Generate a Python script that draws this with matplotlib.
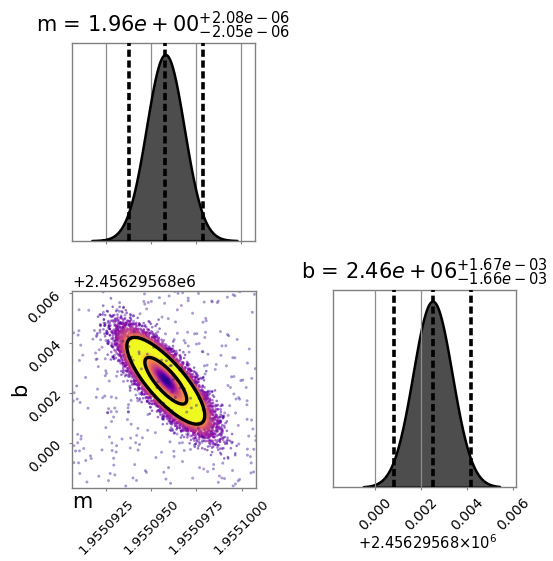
import numpy as np
import matplotlib
matplotlib.use("Agg")
import matplotlib.pyplot as plt
from matplotlib.ticker import FixedLocator, FormatStrFormatter, ScalarFormatter, NullFormatter, NullLocator

# posterior summary (median and 95% interval half-widths)
m_med = 1.9550958
m_err = [2.05e-06, 2.08e-06]          # minus, plus
b_off = 2456295.68
b_med = b_off + 0.0025
b_err = [1.66e-03, 1.67e-03]          # minus, plus
rho_mb = -0.80

m_title = r"m = $1.96e+00_{-2.05e-06}^{+2.08e-06}$"
b_title = r"b = $2.46e+06_{-1.66e-03}^{+1.67e-03}$"

m_ticks = [1.9550925, 1.9550950, 1.9550975, 1.9551000]
b_ticks = [0.000, 0.002, 0.004, 0.006]     # relative to b_off
b_guides = [0.000, 0.002]
m_lim = [1.9550906, 1.9551008]
b_lim = [-0.0018, 0.0061]                  # relative to b_off
m_span = [1.9550917, 1.9550998]           # extent of the samples
b_span = [-0.0005, 0.0054]

n_samples = 25000
n_background = 340

# colour along the Mahalanobis radius
r_knots = [0.0, 0.25, 0.45, 0.65, 0.85, 1.0, 1.25, 1.4, 1.95, 2.1, 2.3, 2.6, 3.0, 3.5, 4.5]
f_knots = [0.0, 0.08, 0.30, 0.50, 0.65, 0.75, 0.95, 1.0, 1.0, 0.72, 0.5, 0.3, 0.18, 0.1, 0.05]

sig_m = np.mean(m_err) / 1.96
sig_b = np.mean(b_err) / 1.96
cmap = plt.get_cmap("plasma")

plt.rcParams["font.family"] = "DejaVu Sans"
fig = plt.figure(figsize=(5.53, 5.61), dpi=100)
ax_m = fig.add_axes([0.1302, 0.5710, 0.3309, 0.3519])
ax_mb = fig.add_axes([0.1302, 0.1301, 0.3327, 0.3512])
ax_b = fig.add_axes([0.6027, 0.1319, 0.3298, 0.3512])

blim = [b_off + v for v in b_lim]
bticks = [b_off + v for v in b_ticks]


def marginal(ax, med, sig, span, err):
    x = np.linspace(span[0], span[1], 400)
    y = np.exp(-0.5 * ((x - med) / sig) ** 2)
    ax.fill_between(x, 0, y, facecolor="#4d4d4d", edgecolor="k", lw=1.8, zorder=2)
    for v in (med - err[0], med, med + err[1]):
        ax.axvline(v, color="k", ls=(0, (2.0, 1.0)), lw=2.6, zorder=3)
    ax.set_ylim(0, 1.06)
    ax.yaxis.set_major_locator(NullLocator())


# m marginal
marginal(ax_m, m_med, sig_m, m_span, m_err)
ax_m.set_xlim(m_lim)
ax_m.xaxis.set_major_locator(FixedLocator(m_ticks))
ax_m.xaxis.set_major_formatter(NullFormatter())
ax_m.tick_params(axis="x", length=0)
ax_m.grid(axis="x", color="0.55", lw=0.9, zorder=4)
ax_m.set_title(m_title, fontsize=15, pad=8)

# b marginal
marginal(ax_b, b_med, sig_b, [b_off + v for v in b_span], b_err)
for g in b_guides:
    ax_b.axvline(b_off + g, color="0.55", lw=0.9, zorder=4)
ax_b.set_xlim(blim)
ax_b.xaxis.set_major_locator(FixedLocator(bticks))
ax_b.xaxis.set_major_formatter(ScalarFormatter(useOffset=b_off))
ax_b.xaxis.get_offset_text().set_visible(False)
ax_b.text(0.52, -0.28, f"+{b_off / 1e6:.8f}\u00d710$^{{6}}$", transform=ax_b.transAxes,
          ha="center", va="center", fontsize=10.5)
ax_b.set_title(b_title, fontsize=15, pad=8)

# joint m-b panel
gx = np.linspace(m_lim[0], m_lim[1], 400)
gy = np.linspace(b_lim[0], b_lim[1], 400)
X, Y = np.meshgrid(gx, gy)
u = (X - m_med) / sig_m
v = (Y - (b_med - b_off)) / sig_b
r = np.sqrt((u ** 2 - 2 * rho_mb * u * v + v ** 2) / (1 - rho_mb ** 2))
rgba = cmap(np.interp(r, r_knots, f_knots))
rgba[..., 3] = np.interp(r, [0, 2.05, 2.4], [1, 1, 0])
ax_mb.imshow(rgba, extent=[m_lim[0], m_lim[1], blim[0], blim[1]], origin="lower",
             aspect="auto", interpolation="bilinear", zorder=1)

rng = np.random.default_rng(11)
z = rng.standard_normal((n_samples, 2))
rz = np.hypot(z[:, 0], z[:, 1])
keep = rz > 2.0
sx = m_med + sig_m * z[keep, 0]
sy = b_med + sig_b * (rho_mb * z[keep, 0] + np.sqrt(1 - rho_mb ** 2) * z[keep, 1])
cols = cmap(np.interp(rz[keep], r_knots, f_knots))
cols[:, 3] = 0.55
ax_mb.scatter(sx, sy, s=3.5, c=cols, linewidths=0, zorder=2, rasterized=True)

bx = rng.uniform(m_lim[0], m_lim[1], n_background)
by = rng.uniform(blim[0], blim[1], n_background)
bcol = cmap(rng.uniform(0.0, 0.1, n_background))
bcol[:, 3] = 0.4
ax_mb.scatter(bx, by, s=4.5, c=bcol, linewidths=0, zorder=2, rasterized=True)

ax_mb.contour(X, Y + b_off, r, levels=[1.1, 2.05], colors="k", linewidths=2.4, zorder=3)
ax_mb.set_xlim(m_lim)
ax_mb.set_ylim(blim)
ax_mb.xaxis.set_major_locator(FixedLocator(m_ticks))
ax_mb.xaxis.set_major_formatter(FormatStrFormatter("%.7f"))
ax_mb.yaxis.set_major_locator(FixedLocator(bticks))
ax_mb.yaxis.set_major_formatter(ScalarFormatter(useOffset=b_off))
ax_mb.yaxis.get_offset_text().set_fontsize(11)
ax_mb.set_xlabel("m", fontsize=15, loc="left")
ax_mb.xaxis.set_label_coords(0.0, -0.02)
ax_mb.set_ylabel("b", fontsize=15)
ax_mb.yaxis.set_label_coords(-0.23, 0.5)

for ax in (ax_m, ax_mb, ax_b):
    for sp in ax.spines.values():
        sp.set_edgecolor("0.5")
        sp.set_linewidth(1.0)
    ax.tick_params(labelsize=10, length=2.5, color="0.5")
    for lab in ax.get_xticklabels() + ax.get_yticklabels():
        lab.set_rotation(45)
ax_mb.tick_params(axis="x", labelsize=9.5, pad=4)

fig.savefig("out.png", dpi=100)
